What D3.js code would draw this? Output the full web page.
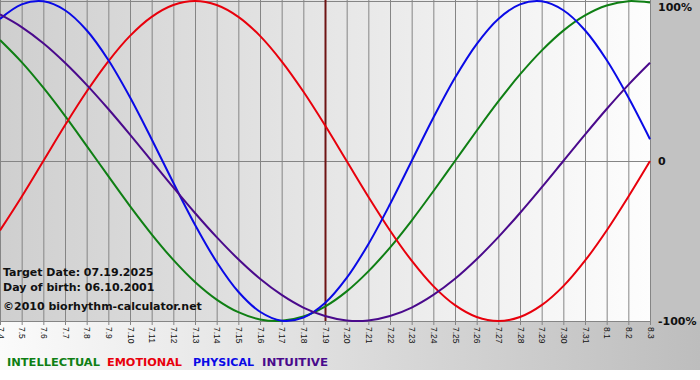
<!DOCTYPE html>
<html lang="en">
<head>
    <meta charset="UTF-8">
    <title>Biorhythm chart</title>
    <script src="https://d3js.org/d3.v7.min.js"></script>
    <style>
        body { margin: 0; background: #fff; }
        svg { display: block; }
    </style>
</head>
<body>
    <svg id="chart" width="700" height="380"></svg>

    <script>
        // day labels along the bottom (7.4 .. 8.3)
        const days = ["7.4", "7.5", "7.6", "7.7", "7.8", "7.9", "7.10", "7.11", "7.12", "7.13",
            "7.14", "7.15", "7.16", "7.17", "7.18", "7.19", "7.20", "7.21", "7.22", "7.23",
            "7.24", "7.25", "7.26", "7.27", "7.28", "7.29", "7.30", "7.31", "8.1", "8.2", "8.3"];

        // values per day, -1 .. 1
        const intellectual = [0.756, 0.618, 0.458, 0.282, 0.095, -0.095, -0.282, -0.458, -0.618, -0.756,
            -0.866, -0.945, -0.990, -0.999, -0.972, -0.910, -0.815, -0.690, -0.541, -0.372,
            -0.189, 0, 0.189, 0.372, 0.541, 0.690, 0.815, 0.910, 0.972, 0.999, 0.990];
        const emotional = [-0.434, -0.223, 0, 0.223, 0.434, 0.623, 0.782, 0.901, 0.975, 1,
            0.975, 0.901, 0.782, 0.623, 0.434, 0.223, 0, -0.223, -0.434, -0.623,
            -0.782, -0.901, -0.975, -1, -0.975, -0.901, -0.782, -0.623, -0.434, -0.223, 0];
        const physical = [0.888, 0.979, 0.998, 0.942, 0.817, 0.631, 0.398, 0.136, -0.136, -0.398,
            -0.631, -0.817, -0.942, -0.998, -0.979, -0.888, -0.731, -0.520, -0.270, 0,
            0.270, 0.520, 0.731, 0.888, 0.979, 0.998, 0.942, 0.817, 0.631, 0.398, 0.136];
        const intuitive = [0.916, 0.837, 0.736, 0.614, 0.476, 0.325, 0.165, 0, -0.165, -0.325,
            -0.476, -0.614, -0.736, -0.837, -0.916, -0.969, -0.997, -0.997, -0.969, -0.916,
            -0.837, -0.736, -0.614, -0.476, -0.325, -0.165, 0, 0.165, 0.325, 0.476, 0.614];

        const targetDay = "7.19";
        const yLabels = ["100%", "0", "-100%"];
        const yValues = [1, 0, -1];
        const infoLines = ["Target Date: 07.19.2025", "Day of birth: 06.10.2001"];
        const copyright = "\u00a92010 biorhythm-calculator.net";

        const series = [
            { name: "INTELLECTUAL", values: intellectual, color: "#0f7f14" },
            { name: "EMOTIONAL", values: emotional, color: "#e8000c" },
            { name: "PHYSICAL", values: physical, color: "#0a0ae6" },
            { name: "INTUITIVE", values: intuitive, color: "#4a0a8c" }
        ];

        const svg = d3.select("#chart");
        const plotW = 650, plotH = 321;

        const x = d3.scaleLinear().domain([0, days.length - 1]).range([0, plotW]);
        const y = d3.scaleLinear().domain([-1, 1]).range([plotH, 1]);

        // gradients
        const defs = svg.append("defs");
        const g1 = defs.append("linearGradient").attr("id", "plotBg");
        g1.append("stop").attr("offset", "0%").attr("stop-color", "#cfcfcf");
        g1.append("stop").attr("offset", "100%").attr("stop-color", "#fdfdfd");
        const g2 = defs.append("linearGradient").attr("id", "bottomBg");
        g2.append("stop").attr("offset", "0%").attr("stop-color", "#fbfbfb");
        g2.append("stop").attr("offset", "100%").attr("stop-color", "#bdbdbd");

        svg.append("rect").attr("width", 700).attr("height", 370).attr("fill", "url(#bottomBg)");
        svg.append("rect").attr("x", plotW).attr("width", 50).attr("height", plotH).attr("fill", "#c2c2c2");
        svg.append("rect").attr("width", plotW).attr("height", plotH).attr("fill", "url(#plotBg)");

        // grid
        svg.append("g")
            .selectAll("line")
            .data(days)
            .join("line")
            .attr("x1", (d, i) => x(i) + 0.5)
            .attr("x2", (d, i) => x(i) + 0.5)
            .attr("y1", 0)
            .attr("y2", plotH + 4)
            .attr("stroke", "#858585")
            .attr("stroke-width", 1);

        svg.append("g")
            .selectAll("line")
            .data(yValues)
            .join("line")
            .attr("x1", 0)
            .attr("x2", plotW + 1)
            .attr("y1", d => Math.round(y(d)) + 0.5)
            .attr("y2", d => Math.round(y(d)) + 0.5)
            .attr("stroke", "#858585");

        // tick labels (rotated)
        svg.append("g")
            .selectAll("text")
            .data(days)
            .join("text")
            .attr("transform", (d, i) => `translate(${x(i) + 0.5},327) rotate(90)`)
            .attr("dy", "0.35em")
            .attr("font-family", "Liberation Sans, Arial, sans-serif")
            .attr("font-size", "8.5px")
            .attr("fill", "#111")
            .text(d => d);

        // target day marker
        const ti = days.indexOf(targetDay);
        svg.append("line")
            .attr("x1", x(ti) + 0.5).attr("x2", x(ti) + 0.5)
            .attr("y1", 0).attr("y2", plotH)
            .attr("stroke", "#6e1414")
            .attr("stroke-width", 2);

        // curves
        const line = d3.line()
            .x((d, i) => x(i))
            .y(d => y(d))
            .curve(d3.curveCatmullRom);

        svg.append("g")
            .selectAll("path")
            .data(series)
            .join("path")
            .attr("d", d => line(d.values))
            .attr("fill", "none")
            .attr("stroke", d => d.color)
            .attr("stroke-width", 2);

        // y labels
        svg.append("g")
            .selectAll("text")
            .data(yValues)
            .join("text")
            .attr("x", 658)
            .attr("y", d => Math.min(Math.max(y(d), 7), plotH))
            .attr("dy", "0.35em")
            .attr("font-family", "DejaVu Sans, Verdana, sans-serif")
            .attr("font-weight", "bold")
            .attr("font-size", "11px")
            .attr("fill", "#111")
            .text((d, i) => yLabels[i]);

        // info text
        svg.append("g")
            .selectAll("text")
            .data(infoLines.concat([copyright]))
            .join("text")
            .attr("x", 3)
            .attr("y", (d, i) => [276, 291, 310][i])
            .attr("font-family", "DejaVu Sans, Verdana, sans-serif")
            .attr("font-weight", "bold")
            .attr("font-size", "11px")
            .attr("fill", "#111")
            .text(d => d);

        // legend
        const legendX = [7, 107, 193, 262];
        const legendW = [93, 75, 61, 66];
        svg.append("g")
            .selectAll("text")
            .data(series)
            .join("text")
            .attr("x", (d, i) => legendX[i])
            .attr("y", 366)
            .attr("font-family", "DejaVu Sans, Verdana, sans-serif")
            .attr("font-weight", "bold")
            .attr("font-size", "11px")
            .attr("textLength", (d, i) => legendW[i])
            .attr("lengthAdjust", "spacingAndGlyphs")
            .attr("fill", d => d.color)
            .text(d => d.name);
    </script>
</body>
</html>
